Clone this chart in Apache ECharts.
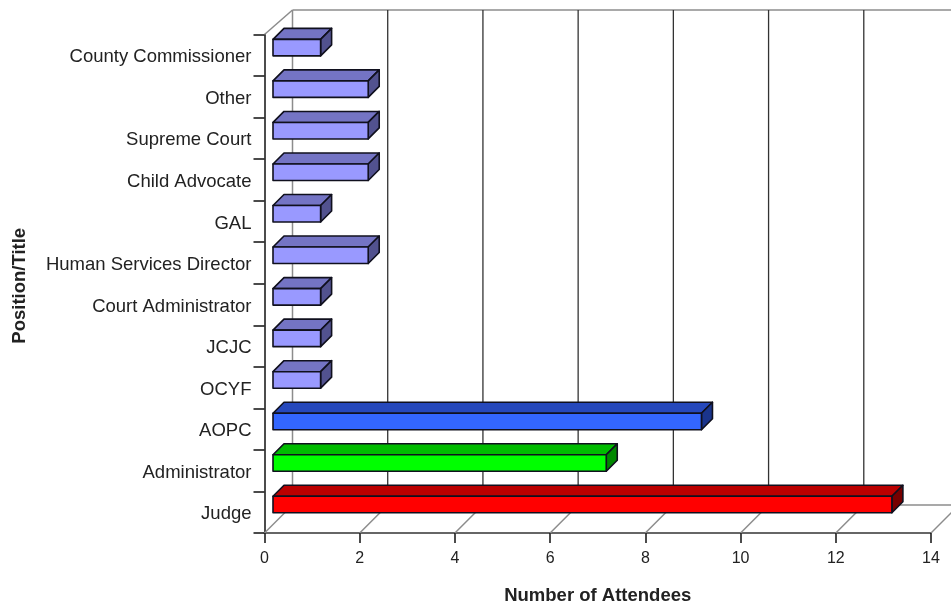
<!DOCTYPE html>
<html>
<head>
<meta charset="utf-8">
<style>html,body{margin:0;padding:0;background:#fff}#chart{width:951px;height:605px}</style>
<script src="https://cdn.jsdelivr.net/npm/echarts@6/dist/echarts.min.js"></script>
</head>
<body>
<div id="chart"></div>
<script>
// Conference attendance by position
const categories = ['County Commissioner','Other','Supreme Court','Child Advocate','GAL','Human Services Director','Court Administrator','JCJC','OCYF','AOPC','Administrator','Judge'];
const attendees = [1,2,2,2,1,2,1,1,1,9,7,13];
const xTicks = [0,2,4,6,8,10,12,14];

// Face colours of each box: front, top, side
const lavender = ['#9999ff','#7474c4','#52528f'];
const faceColors = [lavender,lavender,lavender,lavender,lavender,lavender,lavender,lavender,lavender,
  ['#3366ff','#2648bc','#1a348c'],
  ['#00ff00','#00bb00','#008800'],
  ['#ff0000','#bb0000','#770000']];

// Oblique projection offsets, in pixels
const wallDepth = 28;
const barDepth = 11;
const barInset = 8.5;
const barHeight = 16.5;
const barLift = 20.2;

const chart = echarts.init(document.getElementById('chart'));

function renderWalls(params, api) {
  const v = api.value(0);
  const last = categories.length - 1;
  const band = api.size([0, 1])[1];
  const front = api.coord([v, last]);
  const floorY = front[1] + band / 2;
  const axisTop = api.coord([v, 0])[1] - band / 2;
  const topY = axisTop - 24.5;
  const backX = front[0] + wallDepth;
  const backFloorY = floorY - wallDepth;
  const isFirst = v === xTicks[0];
  const gray = { stroke: '#8c8c8c', lineWidth: 1.5 };
  const wallColor = isFirst ? gray : { stroke: '#333', lineWidth: 1.3 };
  const children = [
    { type: 'line', shape: { x1: front[0], y1: floorY, x2: backX, y2: backFloorY }, style: gray },
    { type: 'line', shape: { x1: backX, y1: topY, x2: backX, y2: backFloorY }, style: wallColor }
  ];
  if (isFirst) {
    const end = api.coord([xTicks[xTicks.length - 1], last])[0] + wallDepth;
    children.push(
      { type: 'line', shape: { x1: front[0], y1: axisTop, x2: backX, y2: topY }, style: gray },
      { type: 'line', shape: { x1: backX, y1: topY, x2: end, y2: topY }, style: gray },
      { type: 'line', shape: { x1: backX, y1: backFloorY, x2: end, y2: backFloorY }, style: gray }
    );
  }
  return { type: 'group', children };
}

function renderBox(params, api) {
  const i = api.value(1);
  const band = api.size([0, 1])[1];
  const start = api.coord([0, i]);
  const end = api.coord([api.value(0), i]);
  const x0 = start[0] + barInset;
  const x1 = end[0] + barInset;
  const y1 = start[1] + band / 2 - barLift;
  const y0 = y1 - barHeight;
  const d = barDepth;
  const colors = faceColors[i];
  const edge = { stroke: '#10101e', lineWidth: 1.6, lineJoin: 'round' };
  return {
    type: 'group',
    children: [
      { type: 'polygon', shape: { points: [[x0,y0],[x0+d,y0-d],[x1+d,y0-d],[x1,y0]] }, style: { fill: colors[1], ...edge } },
      { type: 'polygon', shape: { points: [[x1,y0],[x1+d,y0-d],[x1+d,y1-d],[x1,y1]] }, style: { fill: colors[2], ...edge } },
      { type: 'rect', shape: { x: x0, y: y0, width: x1 - x0, height: y1 - y0 }, style: { fill: colors[0], ...edge } }
    ]
  };
}

const labelFont = { fontFamily: '"Liberation Sans", Arial, sans-serif', color: '#222' };

chart.setOption({
  animation: false,
  grid: { left: 264.5, top: 34.5, width: 666.5, height: 498.5, containLabel: false, outerBoundsMode: 'none' },
  xAxis: {
    type: 'value', min: 0, max: 14, interval: 2,
    name: 'Number of Attendees', nameLocation: 'middle', nameGap: 53,
    nameTextStyle: { ...labelFont, fontSize: 18.5, fontWeight: 'bold' },
    axisLine: { show: true, lineStyle: { color: '#666', width: 2 } },
    axisTick: { show: true, length: 10, lineStyle: { color: '#111', width: 1.5 } },
    axisLabel: { ...labelFont, fontSize: 16, margin: 18, hideOverlap: false, showMinLabel: true, showMaxLabel: true },
    splitLine: { show: false }
  },
  yAxis: {
    type: 'category', inverse: true, data: categories,
    name: 'Position/Title', nameLocation: 'middle', nameGap: 235, nameRotate: 90,
    nameTextStyle: { ...labelFont, fontSize: 18.5, fontWeight: 'bold', padding: [0, 4, 0, 0] },
    axisLine: { show: true, onZero: false, lineStyle: { color: '#111', width: 1.5 } },
    axisTick: { show: true, length: 11, lineStyle: { color: '#111', width: 1.5 } },
    axisLabel: {
      interval: 0, margin: 13,
      formatter: '{name|{value}}',
      rich: { name: { ...labelFont, fontSize: 18.5, padding: [4, 0, 0, 0] } }
    },
    splitLine: { show: false }
  },
  series: [
    { type: 'custom', renderItem: renderWalls, data: xTicks.map(v => [v]), encode: { x: 0 }, z: 1, silent: true, clip: false },
    { type: 'custom', renderItem: renderBox, data: attendees.map((v, i) => [v, i]), encode: { x: 0, y: 1 }, z: 3, clip: false }
  ]
});
</script>
</body>
</html>
